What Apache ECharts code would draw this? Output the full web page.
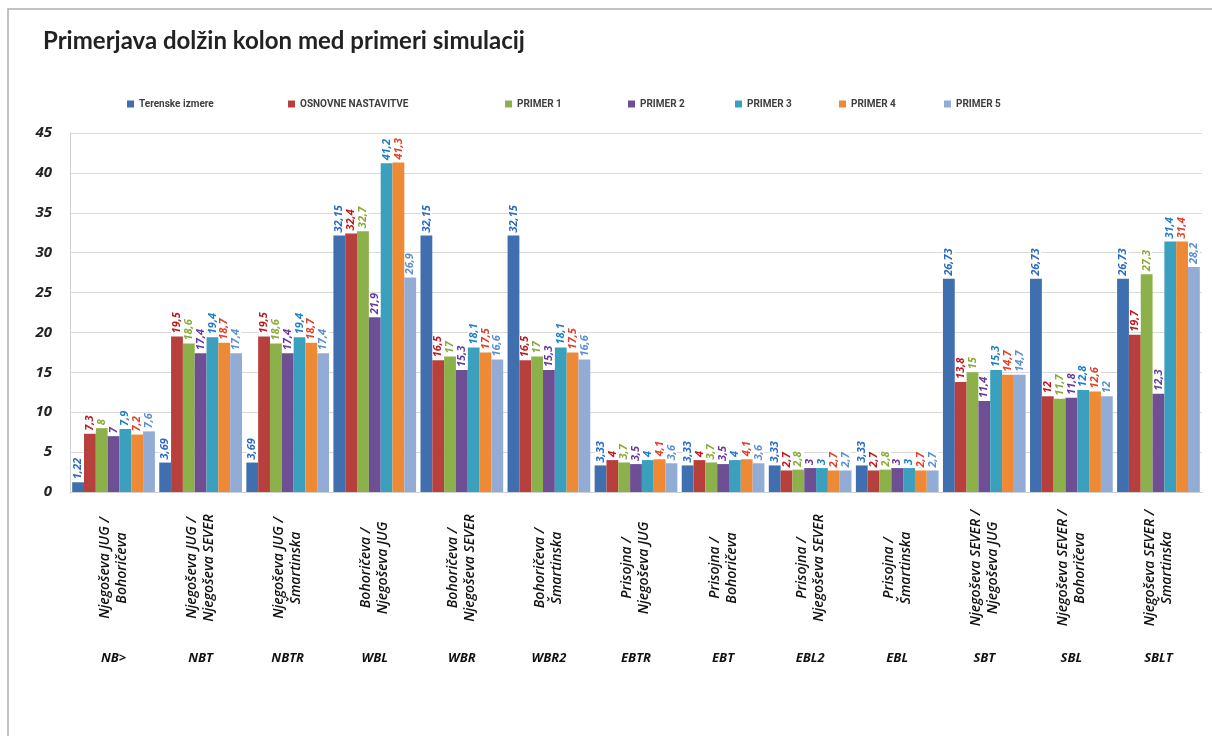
<!DOCTYPE html>
<html>
<head>
<meta charset="utf-8">
<script src="https://cdn.jsdelivr.net/npm/echarts@6/dist/echarts.min.js"></script>
<style>
  html, body { margin: 0; padding: 0; background: #fff; }
  #main { width: 1212px; height: 736px; }
</style>
</head>
<body>
<div id="main"></div>
<script>
// kategorije (krizisca) in kode
var crossings = [
  "Njegoševa JUG /\nBohoričeva",
  "Njegoševa JUG /\nNjegoševa SEVER",
  "Njegoševa JUG /\nŠmartinska",
  "Bohoričeva /\nNjegoševa JUG",
  "Bohoričeva /\nNjegoševa SEVER",
  "Bohoričeva /\nŠmartinska",
  "Prisojna /\nNjegoševa JUG",
  "Prisojna /\nBohoričeva",
  "Prisojna /\nNjegoševa SEVER",
  "Prisojna /\nŠmartinska",
  "Njegoševa SEVER /\nNjegoševa JUG",
  "Njegoševa SEVER /\nBohoričeva",
  "Njegoševa SEVER /\nŠmartinska"
];
var codes = ["NB>", "NBT", "NBTR", "WBL", "WBR", "WBR2", "EBTR", "EBT", "EBL2", "EBL", "SBT", "SBL", "SBLT"];

// dolzine kolon
var terenske = [1.22, 3.69, 3.69, 32.15, 32.15, 32.15, 3.33, 3.33, 3.33, 3.33, 26.73, 26.73, 26.73];
var osnovne  = [7.3, 19.5, 19.5, 32.4, 16.5, 16.5, 4, 4, 2.7, 2.7, 13.8, 12, 19.7];
var primer1  = [8, 18.6, 18.6, 32.7, 17, 17, 3.7, 3.7, 2.8, 2.8, 15, 11.7, 27.3];
var primer2  = [7, 17.4, 17.4, 21.9, 15.3, 15.3, 3.5, 3.5, 3, 3, 11.4, 11.8, 12.3];
var primer3  = [7.9, 19.4, 19.4, 41.2, 18.1, 18.1, 4, 4, 3, 3, 15.3, 12.8, 31.4];
var primer4  = [7.2, 18.7, 18.7, 41.3, 17.5, 17.5, 4.1, 4.1, 2.7, 2.7, 14.7, 12.6, 31.4];
var primer5  = [7.6, 17.4, 17.4, 26.9, 16.6, 16.6, 3.6, 3.6, 2.7, 2.7, 14.7, 12, 28.2];

var names = ["Terenske izmere", "OSNOVNE NASTAVITVE", "PRIMER 1", "PRIMER 2", "PRIMER 3", "PRIMER 4", "PRIMER 5"];
var values = [terenske, osnovne, primer1, primer2, primer3, primer4, primer5];
var barColors = ["#3f6faf", "#b8403c", "#8cb04a", "#6e4f94", "#3aa0bd", "#ee8a35", "#93acd6"];
var labelColors = ["#2a6ac0", "#c0181c", "#8aaa3a", "#6a3a9a", "#1f7fc4", "#e0402a", "#5b8fd0"];
var legendX = [122, 283, 500, 623, 730, 834, 939];

var myChart = echarts.init(document.getElementById("main"));

var series = names.map(function (n, i) {
  return {
    name: n,
    type: "bar",
    barGap: "0%",
    barCategoryGap: "5%",
    itemStyle: { color: barColors[i] },
    label: {
      show: true,
      position: "top",
      rotate: 90,
      align: "left",
      verticalAlign: "middle",
      distance: 3,
      color: labelColors[i],
      fontFamily: "Open Sans",
      fontSize: 11,
      fontWeight: "bold",
      fontStyle: "italic",
      backgroundColor: "#fff",
      formatter: function (p) { return String(p.value).replace(".", ","); }
    },
    data: values[i]
  };
});

var legends = names.map(function (n, i) {
  return {
    data: [n],
    left: legendX[i],
    top: 94,
    itemWidth: 7,
    itemHeight: 7,
    itemGap: 4,
    icon: "rect",
    textStyle: { fontFamily: "Roboto", fontSize: 10, fontWeight: "bold", color: "#404040" }
  };
});

myChart.setOption({
  backgroundColor: "#fff",
  animation: false,
  title: {
    text: "Primerjava dolžin kolon med primeri simulacij",
    left: 38,
    top: 24,
    textStyle: { fontFamily: "Lato", fontSize: 24, fontWeight: "bold", color: "#222" }
  },
  graphic: [{
    type: "rect",
    shape: { x: 8, y: 9, width: 1240, height: 760 },
    style: { fill: "none", stroke: "#b0b0b0", lineWidth: 1.5 },
    silent: true
  }],
  legend: legends,
  grid: { left: 70, right: 10, top: 133, bottom: 244 },
  xAxis: [{
    type: "category",
    data: crossings,
    axisLine: { lineStyle: { color: "#d0d0d0" } },
    axisTick: { length: 190, lineStyle: { color: "#d0d0d0" } },
    axisLabel: {
      rotate: 90,
      align: "center",
      verticalAlign: "middle",
      margin: 76,
      lineHeight: 17,
      fontFamily: "Open Sans",
      fontSize: 14,
      fontWeight: 600,
      fontStyle: "italic",
      color: "#111",
      interval: 0
    }
  }, {
    type: "category",
    position: "bottom",
    offset: 152,
    data: codes,
    axisLine: { show: false },
    axisTick: { show: false },
    axisLabel: {
      fontFamily: "Open Sans",
      fontSize: 13,
      fontWeight: "bold",
      fontStyle: "italic",
      color: "#111",
      interval: 0
    }
  }],
  yAxis: {
    type: "value",
    min: 0,
    max: 45,
    interval: 5,
    axisLine: { show: true, lineStyle: { color: "#d0d0d0" } },
    axisTick: { show: false },
    splitLine: { lineStyle: { color: "#d9d9d9" } },
    axisLabel: {
      margin: 18,
      fontFamily: "Open Sans",
      fontSize: 15,
      fontWeight: "bold",
      fontStyle: "italic",
      color: "#222"
    }
  },
  series: series
});
</script>
</body>
</html>
